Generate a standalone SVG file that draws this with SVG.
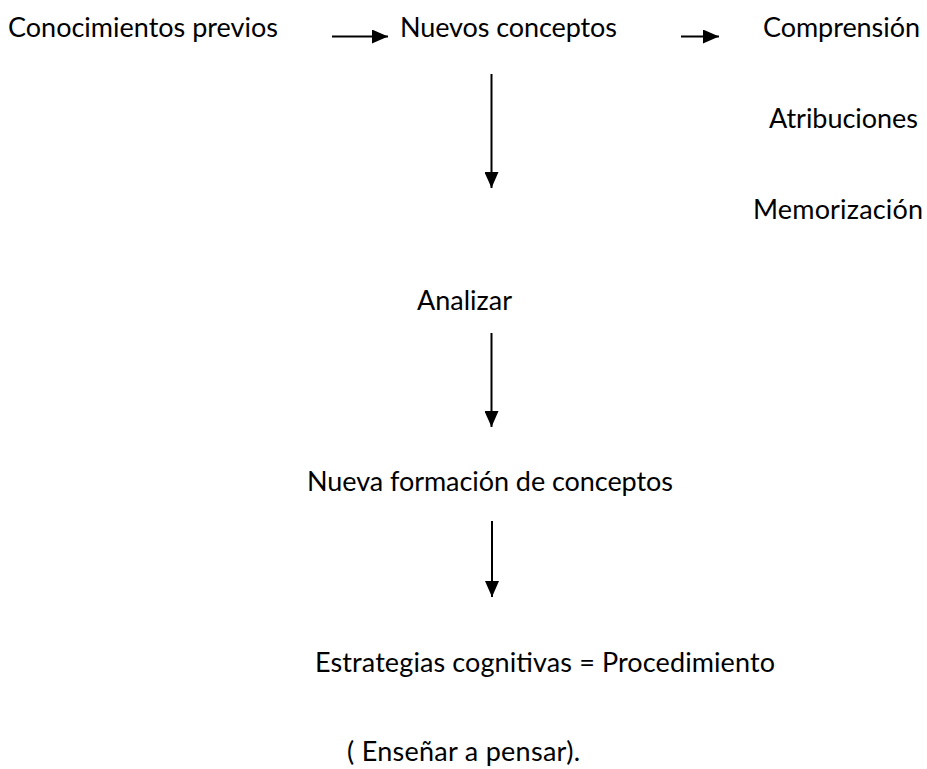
<svg xmlns="http://www.w3.org/2000/svg" width="927" height="769" viewBox="0 0 927 769">
<style>
text { font-family: Lato, "Open Sans", "Liberation Sans", sans-serif; font-size: 27px; fill: #000; }
.c line { stroke: #000; stroke-width: 2; marker-end: url(#ah); }
</style>
<defs>
<marker id="ah" markerUnits="userSpaceOnUse" markerWidth="16" markerHeight="14" refX="16" refY="7" orient="auto">
<path d="M0,0 L16,7 L0,14 Z" fill="#000"/>
</marker>
</defs>
<rect width="927" height="769" fill="#fff"/>
<g id="n-conocimientos"><text x="8" y="37" textLength="270">Conocimientos previos</text></g>
<g id="n-nuevos"><text x="400" y="37" textLength="217">Nuevos conceptos</text></g>
<g id="n-comprension"><text x="763" y="37" textLength="157">Comprensión</text></g>
<g id="n-atribuciones"><text x="769" y="128" textLength="149">Atribuciones</text></g>
<g id="n-memorizacion"><text x="753" y="219" textLength="170">Memorización</text></g>
<g id="n-analizar"><text x="417" y="310" textLength="95">Analizar</text></g>
<g id="n-nueva"><text x="307" y="491" textLength="366">Nueva formación de conceptos</text></g>
<g id="n-estrategias"><text x="315" y="672" textLength="460">Estrategias cognitivas = Procedimiento</text></g>
<g id="n-ensenar"><text x="347" y="761" textLength="233">( Enseñar a pensar).</text></g>
<g id="connectors" class="c">
<line x1="332" y1="36.5" x2="388" y2="36.5"/>
<line x1="681" y1="36.5" x2="719" y2="36.5"/>
<line x1="491.5" y1="74" x2="491.5" y2="188"/>
<line x1="491.5" y1="333" x2="491.5" y2="427"/>
<line x1="492" y1="521" x2="492" y2="597"/>
</g>
</svg>
